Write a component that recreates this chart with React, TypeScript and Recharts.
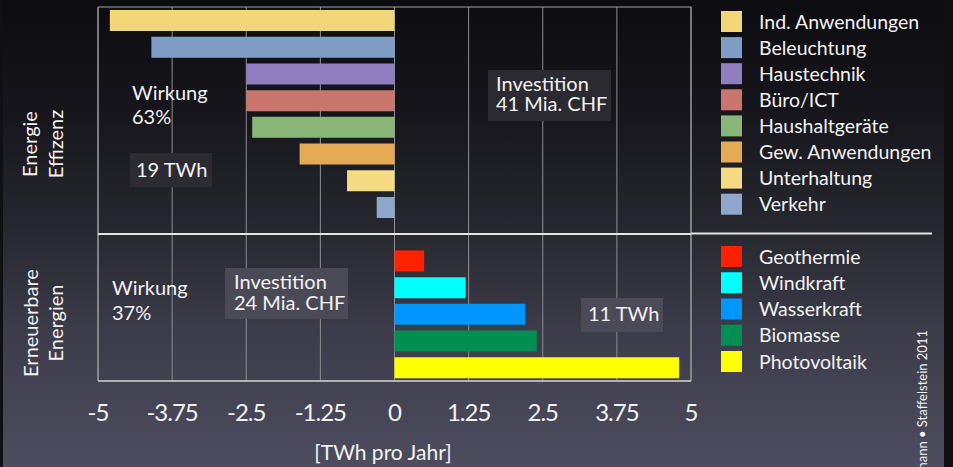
import { BarChart, Bar, Cell, XAxis, YAxis, CartesianGrid, ReferenceArea, ReferenceLine } from "recharts";

// Energieeffizienz (negative = eingesparte TWh pro Jahr)
const efficiencyNames = [
  "Ind. Anwendungen",
  "Beleuchtung",
  "Haustechnik",
  "Büro/ICT",
  "Haushaltgeräte",
  "Gew. Anwendungen",
  "Unterhaltung",
  "Verkehr",
];
const efficiencyValues = [-4.8, -4.1, -2.5, -2.5, -2.4, -1.6, -0.8, -0.3];
const efficiencyColors = ["#f3d677", "#7f9dc5", "#8f7ec0", "#c9766f", "#8bb67a", "#e4aa56", "#f4db84", "#8fa7cb"];

// Erneuerbare Energien (zusätzliche TWh pro Jahr)
const renewableNames = ["Geothermie", "Windkraft", "Wasserkraft", "Biomasse", "Photovoltaik"];
const renewableValues = [0.5, 1.2, 2.2, 2.4, 4.8];
const renewableColors = ["#ff2200", "#00ffff", "#0096ff", "#008f50", "#ffff00"];

const xTicks = [-5, -3.75, -2.5, -1.25, 0, 1.25, 2.5, 3.75, 5];

const SEP = "sep";

const rows = [
  ...efficiencyNames.map((name, i) => ({ name, value: efficiencyValues[i], color: efficiencyColors[i] })),
  { name: SEP, value: null as number | null, color: "none" },
  ...renewableNames.map((name, i) => ({ name, value: renewableValues[i], color: renewableColors[i] })),
];

const FONT = "Lato, 'Open Sans', sans-serif";
const TEXT = "#f2f2f2";

function Tick({ x, y, payload }: any) {
  return (
    <text x={x} y={y + 40} textAnchor="middle" fill={TEXT} fontSize={24} letterSpacing={-1} fontFamily={FONT}>
      {payload.value}
    </text>
  );
}

function Overlay() {
  return (
    <svg width={953} height={467} style={{ position: "absolute", left: 0, top: 0, pointerEvents: "none" }} fontFamily={FONT}>
      {/* group labels */}
      <g fill={TEXT} fontSize={20} textAnchor="middle">
        <text transform="translate(37,144) rotate(-90)">Energie</text>
        <text transform="translate(63,144) rotate(-90)">Effizenz</text>
        <text transform="translate(38,323) rotate(-90)">Erneuerbare</text>
        <text transform="translate(63,323) rotate(-90)">Energien</text>
      </g>

      {/* notes, efficiency block */}
      <rect x={130} y={153} width={82} height={34} fill="#2b2b31" />
      <rect x={488} y={70} width={123} height={51} fill="#2a2a30" />
      <g fill={TEXT} fontSize={20}>
        <text x={132} y={100}>Wirkung</text>
        <text x={132} y={124}>63%</text>
        <text x={136} y={177}>19 TWh</text>
        <text x={496} y={91}>Investition</text>
        <text x={496} y={111}>41 Mia. CHF</text>
      </g>

      {/* notes, renewables block */}
      <rect x={225} y={268} width={123} height={51} fill="#4a4a56" />
      <rect x={581} y={298} width={82} height={34} fill="#4b4b57" />
      <g fill={TEXT} fontSize={20}>
        <text x={112} y={295}>Wirkung</text>
        <text x={112} y={320}>37%</text>
        <text x={234} y={289}>Investition</text>
        <text x={234} y={310}>24 Mia. CHF</text>
        <text x={588} y={321}>11 TWh</text>
      </g>

      {/* legend */}
      <g fontSize={19.5} fill={TEXT}>
        {efficiencyNames.map((n, i) => (
          <g key={n}>
            <rect x={721} y={11 + i * 26.1} width={21} height={21} fill={efficiencyColors[i]} />
            <text x={759} y={11 + i * 26.1 + 17.5}>{n}</text>
          </g>
        ))}
        {renewableNames.map((n, i) => (
          <g key={n}>
            <rect x={721} y={246 + i * 26.25} width={21} height={21} fill={renewableColors[i]} />
            <text x={759} y={246 + i * 26.25 + 17.5}>{n}</text>
          </g>
        ))}
      </g>
      <line x1={691} x2={932} y1={233.5} y2={233.5} stroke="#e6e6e6" strokeWidth={2} />

      <text x={383} y={460} textAnchor="middle" fill={TEXT} fontSize={21}>[TWh pro Jahr]</text>
      <text transform="translate(927,330) rotate(-90)" textAnchor="end" fill={TEXT} fontSize={13}>
        mann • Staffelstein 2011
      </text>
    </svg>
  );
}

export default function App() {
  return (
    <div style={{ position: "absolute", left: 0, top: 0, width: 953, height: 467, background: "#101014", overflow: "hidden" }}>
      <div
        style={{
          position: "absolute",
          left: 3,
          top: 0,
          width: 941,
          height: 467,
          background: "linear-gradient(180deg, #0c0c10 0%, #16161c 25%, #282830 50%, #3b3b49 70%, #4e4d60 100%)",
        }}
      />
      <div style={{ position: "absolute", left: 0, top: 0 }}>
        <BarChart
          width={953}
          height={467}
          data={rows}
          layout="vertical"
          margin={{ top: 7, right: 262, bottom: 0, left: 98 }}
        >
          <CartesianGrid horizontal={false} stroke="#8d8d92" />
          <XAxis
            type="number"
            domain={[-5, 5]}
            ticks={xTicks}
            height={86}
            tickSize={0}
            tickMargin={0}
            axisLine={{ stroke: "#c4c4c8", strokeWidth: 1.5 }}
            tickLine={false}
            tick={<Tick />}
          />
          <YAxis type="category" dataKey="name" hide />
          <ReferenceArea x1={-5} x2={5} fill="none" fillOpacity={0} stroke="#a4a4a8" />
          <ReferenceLine y={SEP} stroke="#e6e6e6" strokeWidth={2} />
          <Bar dataKey="value" barSize={21} isAnimationActive={false}>
            {rows.map((r) => (
              <Cell key={r.name} fill={r.color} />
            ))}
          </Bar>
        </BarChart>
      </div>
      <Overlay />
    </div>
  );
}
